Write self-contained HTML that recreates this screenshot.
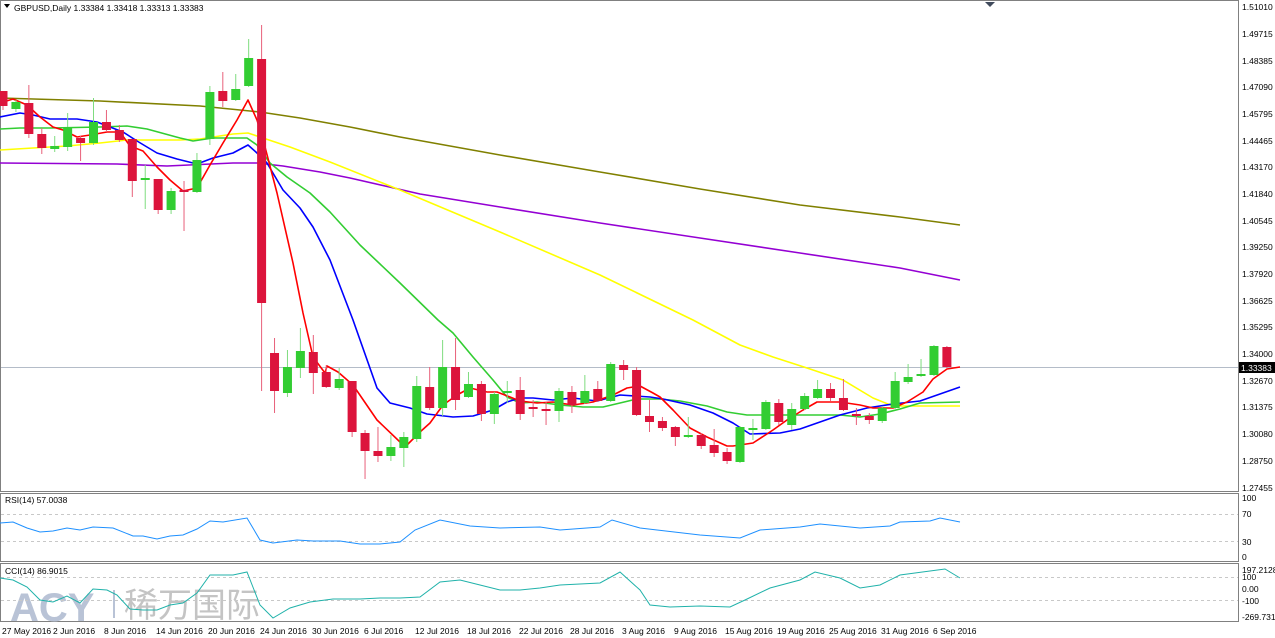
<!DOCTYPE html>
<html><head><meta charset="utf-8"><style>
html,body{margin:0;padding:0;background:#fff;}
svg{display:block;font-family:"Liberation Sans","Noto Sans CJK SC",sans-serif;}
</style></head><body>
<svg id="s" width="1275" height="638" viewBox="0 0 1275 638" xmlns="http://www.w3.org/2000/svg">
<rect width="1275" height="638" fill="#fff"/>
<g fill="none" stroke="#808080" stroke-width="1">
<rect x="0.5" y="0.5" width="1238" height="491"/>
<rect x="0.5" y="493.5" width="1238" height="68"/>
<rect x="0.5" y="563.5" width="1238" height="58"/>
</g>
<path d="M985 2 L995 2 L990 7 Z" fill="#404b5c"/>
<text x="10" y="621" font-size="40" font-weight="bold" fill="#b9c3d6" letter-spacing="0">ACY</text>
<line x1="114" y1="590" x2="114" y2="618" stroke="#b9c3d6" stroke-width="2"/>
<text x="124" y="617" font-size="34" fill="#c4c4c4" font-family="'Noto Sans CJK SC',sans-serif">稀万国际</text>
<g stroke="#c8c8c8" stroke-dasharray="3,3" stroke-width="1">
<line x1="1" y1="514.5" x2="1238" y2="514.5"/>
<line x1="1" y1="541.5" x2="1238" y2="541.5"/>
<line x1="1" y1="577.5" x2="1238" y2="577.5"/>
<line x1="1" y1="600.5" x2="1238" y2="600.5"/>
</g>
<line x1="1" y1="367.5" x2="1238" y2="367.5" stroke="#b4bcc8" stroke-width="1"/>
<g id="ma" fill="none" stroke-width="1.6" stroke-linejoin="round">
<polyline stroke="#808000" points="0,98 100,101 200,106 260,112 300,118 350,127 400,137 500,155 600,172 700,189 800,205 900,217 960,225"/>
<polyline stroke="#9400d3" points="0,163 117,164 167,166 233,163 257,163 283,166 320,172 350,178 420,194 500,207 600,223 700,238 800,253 900,268 960,280"/>
<polyline stroke="#ffff00" points="0,150 33,148 67,146 100,143 127,140 150,140 180,140 200,139 233,134 248,133 260,137 290,147 330,162 400,190 500,232 600,275 693,320 740,345 773,357 807,368 843,380 873,398 893,406 960,406"/>
<polyline stroke="#32cd32" points="0,129 20,128 50,128 100,127 127,126 147,129 180,138 193,141 213,138 247,138 257,145 270,163 287,177 310,193 330,212 360,245 400,283 438,320 453,333 473,357 493,380 507,397 520,403 537,402 560,405 583,407 603,407 620,403 637,399 660,399 680,401 707,406 727,412 747,415 773,415 807,415 840,415 860,417 880,414 900,409 920,403 960,402"/>
<polyline stroke="#0000ff" points="0,117 20,113 33,115 50,119 77,119 97,122 110,127 123,132 137,141 157,153 177,159 197,164 213,158 233,153 248,145 257,153 267,163 283,190 300,208 313,227 330,260 353,320 377,388 390,403 410,408 427,414 453,417 473,416 493,410 507,402 520,398 533,398 553,400 573,398 597,401 620,395 650,397 663,399 690,405 713,413 733,423 750,434 780,433 800,429 820,422 840,415 867,408 893,404 920,401 960,387"/>
<polyline stroke="#ff0000" points="0,103 13,99 27,105 40,117 53,127 63,130 77,137 90,135 107,132 120,132 130,146 143,151 157,167 170,180 183,191 197,188 210,165 223,143 237,120 248,100 257,120 265,147 277,193 293,263 303,313 313,357 325,373 327,366 338,372 353,385 377,420 400,442 407,445 420,432 430,423 443,405 457,395 470,388 487,392 497,392 510,397 520,401 537,403 553,402 573,405 593,402 613,395 627,388 640,386 653,393 660,397 673,410 690,428 707,437 727,446 733,446 753,443 773,430 787,420 803,410 817,402 840,402 860,405 873,408 893,408 907,402 923,392 933,379 947,369 960,367"/>
</g>
<g id="cd"></g>
<polyline fill="none" stroke="#1e90ff" stroke-width="1" points="0,523 13,522 27,528 40,532 53,531 67,528 80,530 93,527 113,528 133,536 143,536 157,539 170,536 183,535 197,529 210,521 223,522 247,518 260,540 273,543 297,540 313,541 340,541 360,544 380,544 400,542 415,530 440,520 470,526 500,528 540,527 560,530 600,527 612,520 640,528 700,535 740,538 760,530 800,527 820,524 860,528 890,526 900,522 930,521 940,518 960,522"/>
<polyline fill="none" stroke="#20b2aa" stroke-width="1" points="0,578 13,580 27,587 40,600 53,602 67,596 80,603 93,589 107,590 117,595 130,609 143,610 157,610 170,605 183,603 197,593 210,575 233,575 247,572 260,605 273,618 290,608 310,602 333,599 360,599 380,598 400,598 420,597 440,582 460,580 480,585 500,590 520,590 540,588 560,585 600,583 620,572 640,590 650,605 670,607 700,606 730,607 745,600 770,588 800,580 815,572 840,578 860,588 880,585 900,575 930,571 945,569 960,578"/>
<g font-size="8.5" fill="#000">
<text x="14" y="11">GBPUSD,Daily  1.33384 1.33418 1.33313 1.33383</text>
<path d="M4 4 L10 4 L7 8 Z" fill="#000"/>
<text x="5" y="503">RSI(14) 57.0038</text>
<text x="5" y="574">CCI(14) 86.9015</text>
</g>
<g font-size="8.5" fill="#000">
<text x="1242" y="10">1.51010</text>
<text x="1242" y="37">1.49715</text>
<text x="1242" y="64">1.48385</text>
<text x="1242" y="90">1.47090</text>
<text x="1242" y="117">1.45795</text>
<text x="1242" y="144">1.44465</text>
<text x="1242" y="170">1.43170</text>
<text x="1242" y="197">1.41840</text>
<text x="1242" y="224">1.40545</text>
<text x="1242" y="250">1.39250</text>
<text x="1242" y="277">1.37920</text>
<text x="1242" y="304">1.36625</text>
<text x="1242" y="330">1.35295</text>
<text x="1242" y="357">1.34000</text>
<text x="1242" y="384">1.32670</text>
<text x="1242" y="410">1.31375</text>
<text x="1242" y="437">1.30080</text>
<text x="1242" y="464">1.28750</text>
<text x="1242" y="491">1.27455</text>
<text x="1242" y="501">100</text>
<text x="1242" y="517">70</text>
<text x="1242" y="545">30</text>
<text x="1242" y="560">0</text>
<text x="1242" y="573">197.2128</text>
<text x="1242" y="580">100</text>
<text x="1242" y="592">0.00</text>
<text x="1242" y="604">-100</text>
<text x="1242" y="620">-269.7312</text>
</g>
<rect x="1239" y="362" width="36" height="11" fill="#000"/>
<text x="1241" y="371" font-size="8.5" fill="#fff">1.33383</text>
<g font-size="8.5" fill="#000">
<text x="2" y="634">27 May 2016</text>
<text x="53" y="634">2 Jun 2016</text>
<text x="104" y="634">8 Jun 2016</text>
<text x="156" y="634">14 Jun 2016</text>
<text x="208" y="634">20 Jun 2016</text>
<text x="260" y="634">24 Jun 2016</text>
<text x="312" y="634">30 Jun 2016</text>
<text x="364" y="634">6 Jul 2016</text>
<text x="415" y="634">12 Jul 2016</text>
<text x="467" y="634">18 Jul 2016</text>
<text x="519" y="634">22 Jul 2016</text>
<text x="570" y="634">28 Jul 2016</text>
<text x="622" y="634">3 Aug 2016</text>
<text x="674" y="634">9 Aug 2016</text>
<text x="725" y="634">15 Aug 2016</text>
<text x="777" y="634">19 Aug 2016</text>
<text x="829" y="634">25 Aug 2016</text>
<text x="881" y="634">31 Aug 2016</text>
<text x="933" y="634">6 Sep 2016</text>
</g>
</svg>
<script>
var d=[
['r',91,106,91,110],['g',102,109,100,112],['r',103,134,85,138],['r',134,148,128,154],['g',146,149,136,152],
['g',127,147,113,151],['r',138,143,136,161],['g',122,143,98,145],['r',122,130,110,132],['r',130,140,125,142],
['r',139,181,139,197],['g',178,180,165,209],['r',179,210,179,214],['g',191,210,188,214],['r',190,191,181,231],
['g',160,192,153,193],['g',92,139,86,145],['r',91,101,72,107],['g',89,100,74,101],['g',58,86,39,87],
['r',59,303,25,391],['r',353,391,338,413],['g',367,393,350,397],['g',351,368,328,378],['r',352,373,335,394],
['r',372,387,365,388],['g',379,388,368,390],['r',381,432,381,437],['r',433,451,430,479],['r',451,456,427,462],
['g',447,456,435,461],['g',437,448,432,467],['g',386,439,376,442],['r',387,408,367,410],['g',367,408,340,416],
['r',367,400,338,410],['g',384,397,372,398],['r',384,414,381,421],['g',394,414,392,424],['g',391,393,381,403],
['r',390,414,377,420],['r',407,408,400,417],['r',409,410,402,425],['g',391,411,388,422],['r',392,405,386,413],
['g',391,403,375,404],['r',389,401,381,402],['g',364,401,362,402],['r',365,370,360,380],['r',370,415,367,416],
['r',416,422,400,432],['r',421,428,417,431],['r',427,437,426,446],['g',435,437,417,438],['r',435,446,433,449],
['r',445,453,429,457],['r',452,461,448,464],['g',427,462,426,463],['g',428,429,419,440],['g',402,429,400,430],
['r',403,422,399,425],['g',409,425,403,430],['g',396,409,393,410],['g',389,398,380,399],['r',389,398,383,401],
['r',398,410,379,411],['r',414,415,408,425],['r',416,420,413,424],['g',408,421,406,423],['g',381,408,372,409],
['g',377,382,364,384],['g',374,375,359,377],['g',346,375,345,376],['r',347,367,346,368]];
var h='';
for(var i=0;i<d.length;i++){var c=d[i],x=3+12.93*i,col=c[0]=='g'?'#32cd32':'#dc143c',wc=c[0]=='g'?'#7fdc7f':'#e8607a';
h+='<line x1="'+x+'" y1="'+c[3]+'" x2="'+x+'" y2="'+c[4]+'" stroke="'+wc+'" stroke-width="1"/>';
var t=c[1],b=Math.max(c[2],c[1]+2);
h+='<rect x="'+(x-4.5)+'" y="'+t+'" width="9" height="'+(b-t)+'" fill="'+col+'"/>';}
document.getElementById('cd').innerHTML=h;
</script>
</body></html>
